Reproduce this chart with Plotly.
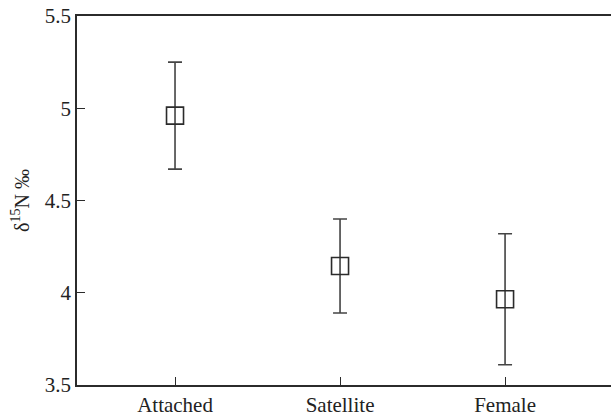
import plotly.graph_objects as go

categories = ["Attached", "Satellite", "Female"]
means = [4.96, 4.145, 3.965]
upper = [5.25, 4.40, 4.32]
lower = [4.67, 3.89, 3.61]

err_plus = [u - m for u, m in zip(upper, means)]
err_minus = [m - l for m, l in zip(means, lower)]

dark = "#2b2b2b"
font = dict(family="Liberation Serif, DejaVu Serif, serif", size=21, color="#222")

fig = go.Figure()
fig.add_trace(go.Scatter(
    x=categories, y=means, mode="markers",
    marker=dict(symbol="square-open", size=17, color=dark, line=dict(width=1.6, color=dark)),
    error_y=dict(type="data", symmetric=False, array=err_plus, arrayminus=err_minus,
                 color="#444", thickness=1.6, width=7),
    showlegend=False,
))
fig.update_layout(
    width=611, height=417,
    margin=dict(l=77, r=0, t=16, b=30),
    paper_bgcolor="white", plot_bgcolor="white",
    font=font,
    xaxis=dict(type="category", range=[-0.594, 2.642], showgrid=False, zeroline=False,
               showline=True, linecolor=dark, linewidth=1.5, mirror=True,
               ticks="inside", ticklen=8, tickcolor=dark, tickwidth=1.2,
               tickfont=dict(size=21)),
    yaxis=dict(range=[3.5, 5.5], tickvals=[3.5, 4, 4.5, 5, 5.5], ticktext=["3.5", "4", "4.5", "5", "5.5"],
               showgrid=False, zeroline=False, showline=True, linecolor=dark, linewidth=1.5,
               ticks="inside", ticklen=8, tickcolor=dark, tickwidth=1.2,
               tickfont=dict(size=21),
               title=dict(text="δ<sup>15</sup>N ‰", standoff=10, font=dict(size=20))),
)
fig.write_html("out.html")
